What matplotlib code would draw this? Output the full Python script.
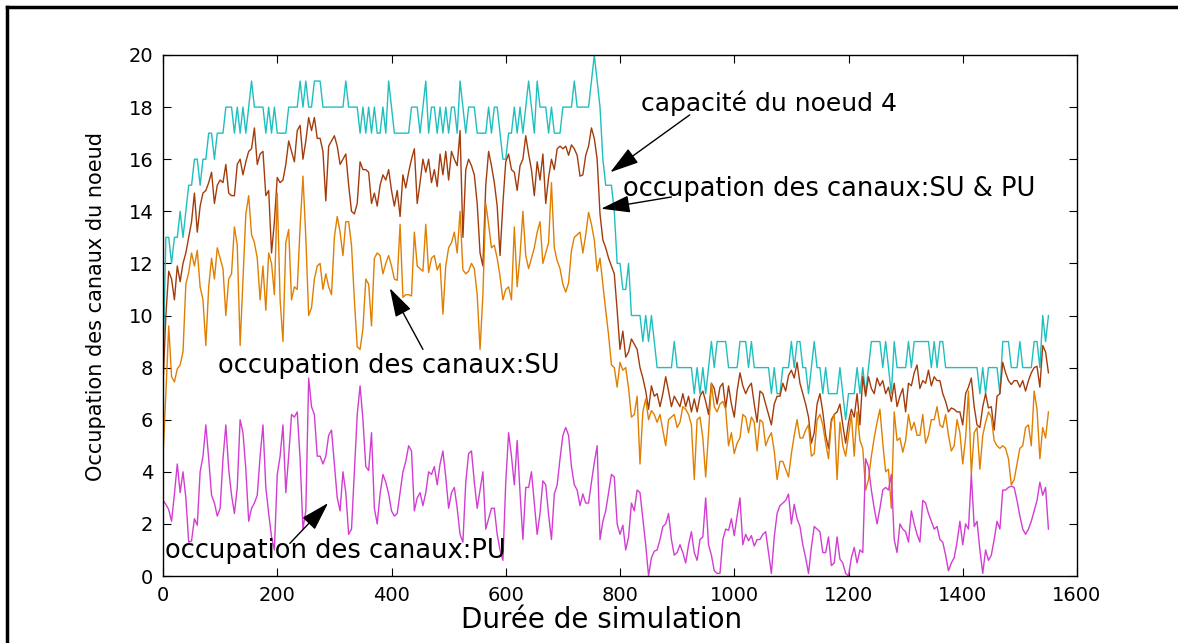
import numpy as np
import matplotlib.pyplot as plt
from matplotlib.lines import Line2D

plt.rcParams['font.family'] = ['DejaVu Sans']

# pas de simulation : un point toutes les 5 unités (0 .. 1550)
STEP = 5

# capacité du noeud 4
capacite = [8, 13, 13, 12, 13, 13, 14, 13, 14, 15, 15, 16, 16, 15, 16, 16, 17, 17, 16, 17, 17, 17, 18, 18,
            18, 17, 18, 17, 18, 17, 18, 19, 18, 18, 18, 18, 17, 18, 17, 18, 17, 17, 17, 17, 18, 18, 18,
            18, 19, 18, 19, 18, 18, 19, 19, 19, 18, 18, 18, 18, 18, 18, 18, 18, 19, 18, 18, 18, 18, 17, 18,
            17, 18, 17, 18, 17, 17, 18, 17, 19, 18, 17, 17, 17, 17, 17, 17, 18, 18, 18, 17, 18, 19, 17, 18,
            18, 17, 18, 17, 18, 17, 18, 18, 17, 19, 18, 17, 18, 18, 18, 17, 17, 17, 17, 18, 17, 18, 18, 17,
            16, 16, 17, 17, 18, 17, 18, 17, 18, 19, 18, 17, 19, 18, 18, 18, 17, 18, 17, 17, 17, 18, 18,
            18, 18, 19, 18, 18, 18, 18, 18, 19, 20, 19, 18, 16, 15, 15, 15, 14, 12, 12, 11, 11, 12, 10, 10,
            10, 10, 9, 10, 9, 10, 9, 8, 8, 8, 8, 8, 8, 9, 8, 8, 8, 8, 8, 8, 7, 8, 7,
            8, 7, 8, 9, 8, 9, 9, 9, 9, 8, 8, 8, 8, 9, 9, 9, 8, 9, 8, 8, 8, 8, 8, 8, 7, 8, 7, 7, 8, 8, 8,
            9, 8, 9, 9, 8, 8, 7, 8, 9, 8, 8, 7, 8, 7, 7, 7,
            7, 8, 7, 6, 7, 7, 7, 8, 7, 8, 7, 8, 9, 9, 9, 9, 8, 9, 8, 7, 9, 8, 8, 8, 8, 9, 8, 9, 9, 9, 9,
            9, 9, 8, 9, 8, 9, 9, 8, 8, 8, 8, 8, 8, 8, 8, 8,
            8, 8, 8, 7, 8, 7, 8, 8, 8, 8, 7, 9, 9, 9, 8, 8, 8, 9, 8, 8, 8, 8, 9, 9, 8, 10, 9, 10]

# occupation des canaux : SU & PU
occ_su_pu = [7.3, 10, 11.7, 11.4, 10.6, 11.9, 11.3, 12, 12.4, 13, 13.6, 14.7, 13.2, 14.2, 14.7, 14.8, 15.1,
             15.5, 14.3, 15, 15.2, 15.1, 15.8, 14.7, 14.6, 14.6, 15.8, 16, 15.4, 15.9, 16.3, 16.4, 17.2,
             15.8, 16.2, 16.3, 14.6, 14.8, 12.4, 13.6, 15.3, 15.1, 15.2, 15.8, 16.7, 16.3, 15.9,
             17.1, 17.3, 16, 16.7, 17.6, 17.1, 17.6, 16.8, 16.8, 16.3, 14.4, 16.5, 16.7, 16.9, 16.5, 15.8,
             16, 16.2, 15, 14, 13.9, 14.3, 15.9, 15.6, 15.6, 15.5, 14.3, 14.7, 14.2, 15, 15.4, 15.2, 15.6,
             14.8, 14.2, 14.8, 13.8, 15.4, 14.9, 15.5, 16, 16.4, 14.3, 15.1, 16, 15.5, 16, 15.1,
             15.6, 14.95, 16.2, 15.4, 16.3, 15.2, 16.3, 16, 15.75, 17.1, 13, 15.6, 16, 15.75, 15.4, 14.3,
             12.4, 11.9, 15, 16.3, 15.75, 15.1, 14.2, 12.3, 14.3, 15.9, 16.2, 15.6, 15.5, 14.8, 15.75, 16,
             16.9, 16.2, 15.6, 14.6, 15.9, 15.2, 16.2, 14.3, 15.3, 16, 15.6, 16.4, 16.5, 16.4, 16.5,
             16.15, 16.55, 16.4, 16.15, 15.35, 15.4, 16.15, 16.5, 17.2, 16.8, 16, 13.9, 12.9, 12.6, 12.2,
             11.9, 11.6, 10.2, 8.7, 9.4, 8.4, 8.6, 9.1, 8.9, 8.7, 8, 7.6, 7.1, 6.4, 7.3, 6.9, 7, 6.5, 7,
             7.65, 7.1, 6.5, 6.9, 6.7, 6.5, 7, 6.5, 6.9, 6.3, 6.8, 6.3, 6.9,
             7.1, 6.7, 6.2, 7.4, 7.2, 6.6, 7.25, 7.4, 6.45, 7.3, 6.6, 6.1, 7.1, 7.8, 7.3, 7, 7.25, 7.4,
             6.6, 5.9, 7.1, 7, 6.6, 6.2, 5.8, 6.6, 6.9, 6.9, 7.4, 7.1, 7.7, 7.9, 7.6, 8.2, 7.4, 7, 6.6,
             6.1, 5.1, 5.5, 6.6, 7, 6.3, 5.4, 4.9, 6, 6.2,
             6.3, 6.6, 5.8, 5.1, 5.9, 6.4, 6.1, 7, 5.8, 7.65, 6.9, 7.65, 7.2, 7, 7.6, 7.3, 7.5, 7, 7.25,
             6.7, 7.4, 6.5, 6.9, 7.2, 6.3, 7.4, 7.3, 7.8, 8.1, 7.2, 7.5, 7.4, 7.9, 7.3, 7.65, 7.5, 7.5, 7,
             6.7, 6.3, 6.45, 6.4, 6.3, 6.3, 5.8, 7, 7.25,
             7.6, 6.5, 5.8, 5.7, 6.5, 7, 6.45, 6.5, 5.6, 6.9, 7, 8.2, 7.8, 7.5, 7.35, 7.5, 7.5, 7.25, 7.5,
             7.1, 7.5, 7.8, 8, 8.05, 7.25, 8.85, 8.6, 7.8]

# occupation des canaux : SU
occ_su = [4.6, 7, 9.6, 7.65, 7.45, 7.95, 8.1, 8.6, 11.2, 11.65, 12.4, 11.9, 12.5, 11.1, 10.6, 8.85, 11.1,
          12.2, 11.4, 12.6, 12.2, 11.8, 10, 11.4, 11.6, 13.4, 12.7, 8.85, 11.4, 13.9, 14.6, 13.1, 12.8,
          12.2, 10.6, 11.9, 10.2, 12.4, 12, 10.8, 14.7, 10.6, 9, 12.8, 13.3, 10.6, 11.1,
          11, 13.4, 15.35, 13, 10, 10.3, 11.4, 11.9, 12, 11, 11.6, 11.1, 10.8, 13, 13.8, 13.2, 12.3, 13.6,
          13.6, 12.7, 10.6, 8.8, 8.7, 9.5, 11.4, 11.2, 9.6, 12.2, 12.4, 12.3, 11.6, 12, 12.3, 11.9, 11.4,
          11.35, 13.5, 10.7, 10.8, 10.8, 10.75, 13.2, 11.9, 11.8, 11.7, 13.5, 11.65, 12.2,
          12.3, 11.75, 12, 10.05, 11.9, 12.6, 12.8, 13.2, 12.4, 14, 11.75, 11.6, 11.7, 12, 11.8, 10.8,
          8.7, 10.8, 14.3, 13.5, 12.6, 12.7, 12.2, 11.5, 10.6, 11, 11.1, 10.6, 13.4, 11.1, 12.3, 14,
          12.3, 11.8, 12.2, 12.6, 13.2, 13.6, 12, 12.4, 12.8, 15.1, 12.6, 12.1, 11.8, 11.2, 10.9,
          11.25, 12.5, 13, 13.1, 13.2, 12.4, 13.1, 13.96, 13.5, 12.9, 11.7, 12.2, 11.2, 10.2, 9.25, 8.1,
          8, 7.25, 8.2, 7.9, 8, 7.2, 6.1, 6.2, 6.9, 4.3, 6.3, 6.8, 6, 6.35, 6.2, 5.9, 6.2, 5.6, 5, 6, 6.1,
          6.2, 5.7, 5.9, 6.5, 6.4, 6.2, 5.8, 3.7, 6, 6.1,
          5.3, 3.8, 5.5, 7.4, 6.5, 6.3, 6.6, 6.7, 6.4, 5, 5.5, 4.7, 5.1, 5.3, 6.2, 6.1, 5.5, 6.1, 5.9,
          4.8, 6, 5.9, 5, 5.3, 5.5, 4.8, 3.7, 4.4, 4.4, 4.1, 3.8, 4.7, 5.4, 6, 5.3, 5.3, 5.6, 5.8, 4.6,
          4.7, 6, 6.2, 5.8, 5.1, 4.5, 5.9, 6.2,
          3.7, 5.9, 5, 4.6, 5.4, 6.2, 4.6, 6.3, 5.2, 4.9, 3.3, 3.7, 4.6, 5.3, 5.9, 6.4, 5.1, 4, 4.1, 2.6,
          6.3, 5.2, 5.3, 4.75, 5.2, 6.2, 5.6, 5.9, 5.4, 5.4, 6.2, 5.1, 5.4, 6, 6, 6.5, 5.8, 5.7, 6.2,
          5.4, 4.8, 5, 6, 5.5, 4.3, 5.3, 7.1,
          3.9, 5.5, 5.7, 4.1, 5.4, 5.9, 6.3, 6.1, 5.2, 5, 4.9, 5, 4.9, 4.5, 3.5, 3.7, 4.3, 4.9, 5, 5.7,
          5.8, 5, 7.1, 6.4, 4.5, 5.7, 5.3, 6.3]

# occupation des canaux : PU
occ_pu = [2.9, 2.75, 2.55, 2.1, 3.15, 4.3, 3.2, 4, 3, 1.3, 1.35, 2.2, 1.95, 4, 4.6, 5.8, 4.5, 3.1, 2.8,
          2.3, 2.6, 4.5, 5.8, 4.1, 3.1, 2.4, 3.4, 6, 5.5, 4.1, 2.1, 2.6, 2.8, 3.1, 4.6, 5.8, 3.4, 2.4,
          1.5, 1, 3.9, 4.6, 5.8, 3.2, 4.6, 6.2, 6.1,
          6.3, 4.5, 1.8, 2.5, 7.6, 6.5, 6.2, 4.6, 4.6, 4.3, 4.6, 5.4, 5.6, 4.3, 3, 2.5, 4, 3.2, 1.6, 1.8,
          4, 6.2, 7.3, 6, 4.2, 4.05, 5.5, 2.6, 2, 3.15, 3.9, 3.6, 3.15, 2.5, 2.3, 2.4, 3.2, 4, 4.4, 5,
          4.8, 2.5, 3, 3.2, 2.7, 3.2, 4, 3.9,
          4.2, 3.5, 4.3, 4.8, 3.8, 2.6, 3.2, 3.4, 2.6, 1.6, 1.3, 3.6, 4.7, 4.8, 3.6, 2.6, 3.3, 4, 1.8,
          2.2, 2.6, 2.6, 1.6, 1, 0.6, 3.6, 5.5, 4.6, 3.5, 5.2, 3.2, 1.4, 3.4, 3.4, 4, 2.8, 1.6, 2.4,
          3.65, 3.5, 2.35, 1.4, 3.15, 3.5, 4.5, 5.4, 5.7,
          5.4, 4.2, 3.5, 3.3, 2.7, 3.15, 2.8, 2.8, 3.6, 4.35, 5, 1.4, 2.1, 2.5, 3.2, 3.9, 3.8, 2, 1.6,
          1.95, 1, 1.5, 2.8, 2.5, 3.3, 3.2, 2.2, 1.2, 0, 0.7, 0.95, 1, 1.4, 1.9, 2, 2.4, 1.4, 0.8, 0.9,
          1.2, 0.9, 0.5, 1.2, 1.7, 0.9, 0.6, 1.4,
          1.5, 3, 1.2, 0.8, 0.2, 0.1, 0.1, 1.4, 1.8, 1.75, 2.2, 1.55, 2.3, 3, 1.2, 1.6, 1.35, 1.55, 1.15,
          1.4, 1.4, 1.6, 1.7, 0.9, 0.1, 1.5, 2.4, 2.7, 2.8, 2.9, 3.15, 2, 2.75, 2.2, 1.9, 1.2, 0.7, 0.1,
          1.1, 1.9, 1.8, 1.7, 0.9, 0.9, 1.5, 0.4, 0.5,
          1.5, 0.65, 0.5, 0.1, 0, 0.7, 1.1, 0.5, 1, 0.9, 4.5, 4.2, 3.3, 2.6, 2, 2.6, 3.3, 3.4, 3.3, 3.9,
          1.4, 0.9, 2, 1.8, 1.7, 1.3, 2.5, 2, 1.6, 1.3, 2.9, 2.8, 2.4, 2.1, 1.8, 1.9, 1.4, 1.3, 0.8, 0.2,
          0.5, 0.7, 1.3, 2.1, 1.2, 2, 1.8,
          3.9, 1.9, 2.1, 1, 0.1, 1, 0.6, 0.8, 1.4, 2.1, 1.8, 3.3, 3.3, 3.4, 3.45, 3.4, 2.9, 2.3, 1.8,
          1.6, 1.8, 2.1, 2.5, 2.9, 3.6, 3.1, 3.4, 1.8]

series = [
    (capacite, '#1fbfbf'),
    (occ_su_pu, '#a33c0c'),
    (occ_su, '#e07f00'),
    (occ_pu, '#d23dd2'),
]

fig = plt.figure(figsize=(11.78, 6.43), dpi=100)
ax = fig.add_axes([163 / 1178, 67 / 643, 914 / 1178, 521 / 643])

for vals, col in series:
    t = STEP * np.arange(len(vals))
    ax.plot(t, vals, color=col, linewidth=1.0)

ax.set_xlim(0, 1600)
ax.set_ylim(0, 20)
ax.set_xticks(np.arange(0, 1601, 200))
ax.set_yticks(np.arange(0, 21, 2))
ax.tick_params(direction='in', top=True, right=True, length=6, labelsize=14, pad=7)
for s in ax.spines.values():
    s.set_linewidth(1.0)

ax.set_xlabel('Durée de simulation', fontsize=20)
ax.xaxis.set_label_coords(0.48, -0.058)
ax.set_ylabel('Occupation des canaux du noeud', fontsize=15)
ax.yaxis.set_label_coords(-0.062, 0.518)

# annotations avec flèches
arr = dict(arrowstyle='-|>,head_length=1.0,head_width=0.3', color='k', lw=1.0,
           mutation_scale=18, shrinkA=0, shrinkB=0)
ax.annotate('', xy=(783, 15.5), xytext=(922, 17.7), arrowprops=arr)
ax.text(837, 18.15, 'capacité du noeud 4', fontsize=18, va='center', ha='left')
ax.annotate('', xy=(767, 14.1), xytext=(890, 14.55), arrowprops=arr)
ax.text(805, 14.85, 'occupation des canaux:SU & PU', fontsize=18.5, va='center', ha='left')
ax.annotate('', xy=(397, 11.05), xytext=(455, 8.7), arrowprops=arr)
ax.text(96, 8.05, 'occupation des canaux:SU', fontsize=18.5, va='center', ha='left')
ax.annotate('', xy=(289, 2.8), xytext=(222, 1.25), arrowprops=arr)
ax.text(4, 0.95, 'occupation des canaux:PU', fontsize=18.5, va='center', ha='left')

# cadre extérieur de la figure
fig.add_artist(Line2D([7 / 1178, 7 / 1178], [0, 1 - 7 / 643], color='k', lw=2.5, transform=fig.transFigure))
fig.add_artist(Line2D([7 / 1178, 1], [1 - 7 / 643, 1 - 7 / 643], color='k', lw=2.5, transform=fig.transFigure))

fig.savefig('out.png', dpi=100)
